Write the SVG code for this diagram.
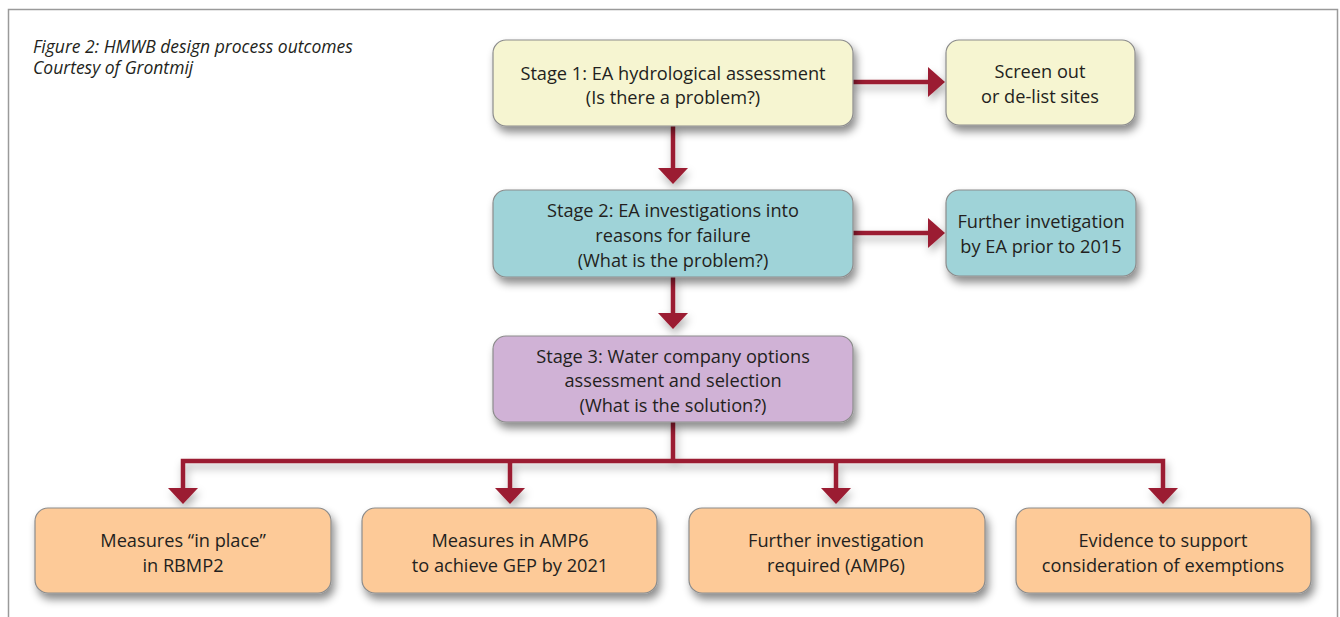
<svg xmlns="http://www.w3.org/2000/svg" width="1340" height="617" viewBox="0 0 1340 617">
<defs>
<filter id="sh" x="-20%" y="-20%" width="140%" height="160%">
<feDropShadow dx="3" dy="6" stdDeviation="4" flood-color="#000" flood-opacity="0.45"/>
</filter>
<filter id="ash" x="-20%" y="-20%" width="140%" height="160%">
<feDropShadow dx="2" dy="5" stdDeviation="4" flood-color="#000" flood-opacity="0.3"/>
</filter>
</defs>
<style>
.box{stroke:#8c8c8c;stroke-width:1.2;filter:url(#sh)}
.y{fill:#f6f5d1}
.t{fill:#9fd3d8}
.p{fill:#d0b2d6}
.o{fill:#fdca98}
text{font-family:"Open Sans","Liberation Sans",sans-serif;font-size:18.2px;fill:#231f20;text-anchor:middle}
.cap{font-style:italic;text-anchor:start;font-size:17.5px}
.ln{stroke:#9b1b30;stroke-width:4.5;fill:none}
.hd{fill:#9b1b30}
</style>
<rect x="8.5" y="9.5" width="1329" height="620" fill="none" stroke="#9a9a9a" stroke-width="1.5"/>
<g id="caption">
<text class="cap" x="33" y="53">Figure 2: HMWB design process outcomes<tspan x="33" dy="21">Courtesy of Grontmij</tspan></text>
</g>
<g id="connectors" filter="url(#ash)">
<path class="ln" d="M853 82H930"/>
<polygon class="hd" points="928,67 945,82 928,97"/>
<path class="ln" d="M853 233H930"/>
<polygon class="hd" points="928,218 945,233 928,248"/>
<path class="ln" d="M673 126V170"/>
<polygon class="hd" points="658,168 688,168 673,184"/>
<path class="ln" d="M673 277V315"/>
<polygon class="hd" points="658,313 688,313 673,329"/>
<path class="ln" d="M673 422V461M183 490V461H1163V490M510 461V490M836 461V490"/>
<polygon class="hd" points="168,488 198,488 183,504"/>
<polygon class="hd" points="495,488 525,488 510,504"/>
<polygon class="hd" points="821,488 851,488 836,504"/>
<polygon class="hd" points="1148,488 1178,488 1163,504"/>
</g>
<g id="stage1">
<rect class="box y" x="493" y="40" width="360" height="86" rx="13"/>
<text x="673" y="80">Stage 1: EA hydrological assessment</text>
<text x="673" y="104">(Is there a problem?)</text>
</g>
<g id="screenout">
<rect class="box y" x="946" y="40" width="189" height="85" rx="13"/>
<text x="1040" y="78">Screen out</text>
<text x="1040" y="103">or de-list sites</text>
</g>
<g id="stage2">
<rect class="box t" x="493" y="190" width="360" height="87" rx="13"/>
<text x="673" y="217">Stage 2: EA investigations into</text>
<text x="673" y="242">reasons for failure</text>
<text x="673" y="267">(What is the problem?)</text>
</g>
<g id="further">
<rect class="box t" x="946" y="190" width="190" height="86" rx="13"/>
<text x="1041" y="228">Further invetigation</text>
<text x="1041" y="253">by EA prior to 2015</text>
</g>
<g id="stage3">
<rect class="box p" x="493" y="336" width="360" height="86" rx="13"/>
<text x="673" y="363">Stage 3: Water company options</text>
<text x="673" y="387">assessment and selection</text>
<text x="673" y="412">(What is the solution?)</text>
</g>
<g id="out1">
<rect class="box o" x="35" y="508" width="296" height="85" rx="13"/>
<text x="183" y="547">Measures “in place”</text>
<text x="183" y="572">in RBMP2</text>
</g>
<g id="out2">
<rect class="box o" x="362" y="508" width="295" height="85" rx="13"/>
<text x="510" y="547">Measures in AMP6</text>
<text x="510" y="572">to achieve GEP by 2021</text>
</g>
<g id="out3">
<rect class="box o" x="689" y="508" width="296" height="85" rx="13"/>
<text x="836" y="547">Further investigation</text>
<text x="836" y="572">required (AMP6)</text>
</g>
<g id="out4">
<rect class="box o" x="1016" y="508" width="295" height="85" rx="13"/>
<text x="1163" y="547">Evidence to support</text>
<text x="1163" y="572">consideration of exemptions</text>
</g>
</svg>
